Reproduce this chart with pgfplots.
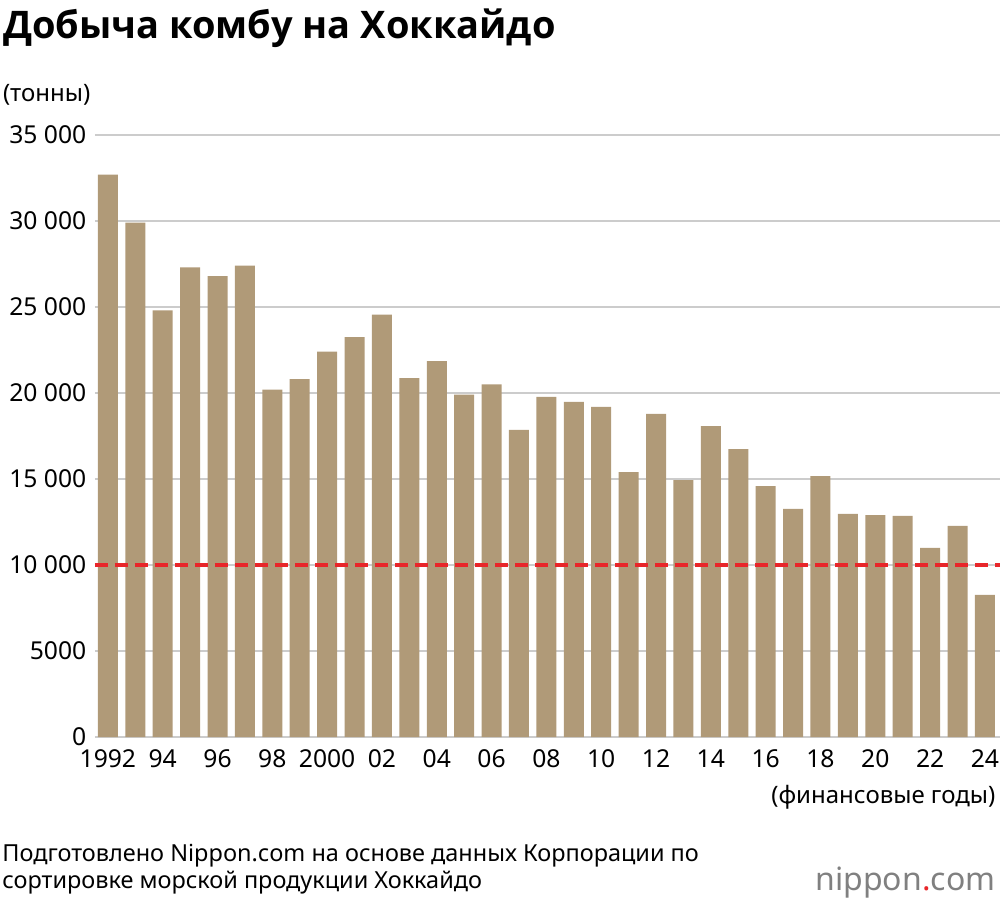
\documentclass[border=0pt]{standalone}
\usepackage{pgfplots}
\pgfplotsset{compat=1.18}
\usepackage{fontspec}
\setmainfont{Noto Sans}
\newfontfamily\titlefont{Open Sans}
\definecolor{barc}{HTML}{B09A78}
\definecolor{redl}{HTML}{E8262A}
\begin{document}
\begin{tikzpicture}[x=1pt,y=1pt]
\path[use as bounding box] (-71.25,-128.25) rectangle (678.75,552.75);
\begin{axis}[at={(0,0)},anchor=origin,scale only axis,width=678.75pt,height=451.5pt,
xmin=1991.53,xmax=2024.55,ymin=0,ymax=35000,
axis line style={draw=none},tick style={draw=none},
scaled y ticks=false,
ytick={0,5000,...,35000},yticklabels={0,5000,10 000,15 000,20 000,25 000,30 000,35 000},
ymajorgrids,grid style={gray!40,line width=0.9pt},
xtick={1992,1994,...,2024},xticklabels={1992,94,96,98,2000,02,04,06,08,10,12,14,16,18,20,22,24},
ticklabel style={font=\fontsize{18.5}{20}\selectfont},
yticklabel style={anchor=east,xshift=-3pt},
xticklabel style={yshift=-6pt,text height=13pt,text depth=0pt},
/pgf/number format/assume math mode=true,
clip=false]
\addplot[ybar,bar width=15pt,fill=barc,draw=none] coordinates {
(1992,32700)(1993,29900)(1994,24800)(1995,27300)(1996,26800)(1997,27400)(1998,20200)(1999,20800)(2000,22400)(2001,23250)(2002,24550)(2003,20870)(2004,21860)(2005,19900)(2006,20500)(2007,17850)(2008,19770)(2009,19480)(2010,19190)(2011,15400)(2012,18780)(2013,14940)(2014,18080)(2015,16740)(2016,14590)(2017,13260)(2018,15170)(2019,12970)(2020,12900)(2021,12850)(2022,10990)(2023,12270)(2024,8260)};
\addplot[sharp plot,no marks,draw=redl,line width=2.4pt,dash pattern=on 10pt off 5pt] coordinates {(1991.53,10000)(2024.55,10000)};
\end{axis}
\node[anchor=west,font=\titlefont\fontsize{28.5}{30}\selectfont\bfseries] at (-72.5,531.75) {Добыча комбу на Хоккайдо};
\node[anchor=west,font=\fontsize{18}{20}\selectfont] at (-72.5,481.5) {(тонны)};
\node[anchor=east,font=\fontsize{18}{20}\selectfont] at (678.75,-45) {(финансовые годы)};
\node[anchor=west,align=left,font=\fontsize{17.6}{20}\selectfont] at (-73,-99) {Подготовлено Nippon.com на основе данных Корпорации по\\сортировке морской продукции Хоккайдо};
\node[anchor=east,font=\fontsize{24}{26}\selectfont,text=gray] at (678.75,-109) {nippon{\color{redl}.}com};
\end{tikzpicture}
\end{document}
